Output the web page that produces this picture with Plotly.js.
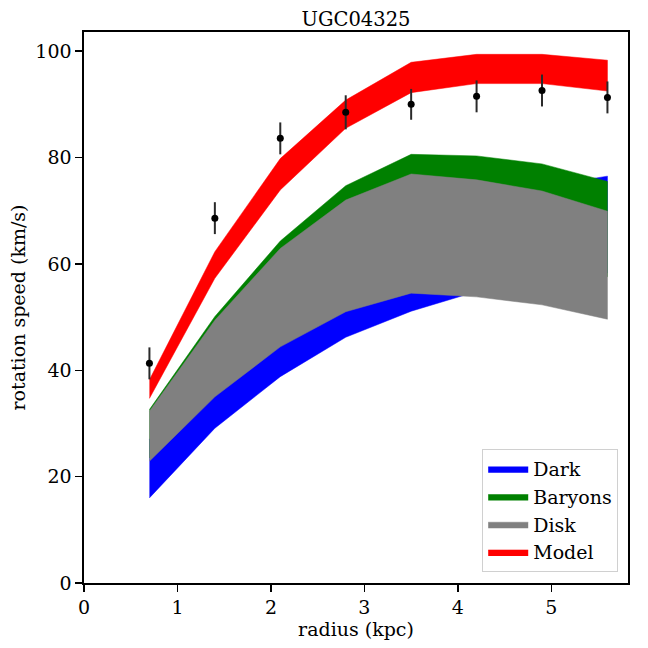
<!DOCTYPE html>
<html>
<head>
<meta charset="utf-8">
<script src="https://cdn.plot.ly/plotly-3.0.1.min.js"></script>
<style>html,body{margin:0;padding:0;background:#fff}#chart{width:648px;height:648px}</style>
</head>
<body>
<div id="chart"></div>
<script>
var radius = [0.7, 1.4, 2.1, 2.8, 3.5, 4.2, 4.9, 5.6];
var obsSpeed = [41.3, 68.6, 83.6, 88.5, 90.0, 91.5, 92.6, 91.3];
var obsErr = [3.0, 3.0, 3.0, 3.2, 2.9, 3.0, 3.0, 3.0];
var darkLow = [16.0, 29.1, 38.8, 46.2, 51.1, 54.8, 56.8, 58.3];
var darkHigh = [27.0, 40.0, 52.0, 61.0, 67.0, 71.0, 74.5, 76.5];
var baryonsLow = [23.5, 36.0, 46.0, 55.0, 59.5, 60.1, 58.9, 57.6];
var baryonsHigh = [32.6, 50.1, 64.3, 74.7, 80.6, 80.3, 78.8, 75.5];
var diskLow = [22.9, 35.0, 44.4, 51.0, 54.5, 53.8, 52.3, 49.6];
var diskHigh = [32.3, 49.4, 62.9, 72.0, 76.9, 75.8, 73.7, 69.9];
var modelLow = [34.7, 57.3, 73.9, 85.5, 92.2, 93.9, 93.9, 92.5];
var modelHigh = [38.2, 62.3, 79.8, 90.8, 97.9, 99.4, 99.4, 98.3];
var xTicks = [0, 1, 2, 3, 4, 5];
var yTicks = [0, 20, 40, 60, 80, 100];

function band(name, low, high, color) {
  var xs = radius.concat(radius.slice().reverse());
  var ys = high.concat(low.slice().reverse());
  return {
    x: xs, y: ys, name: name, type: 'scatter', mode: 'lines',
    fill: 'toself', fillcolor: color,
    line: {color: color, width: 0.5}, hoverinfo: 'skip'
  };
}

var traces = [
  band('Dark', darkLow, darkHigh, '#0000ff'),
  band('Baryons', baryonsLow, baryonsHigh, '#008000'),
  band('Disk', diskLow, diskHigh, '#808080'),
  band('Model', modelLow, modelHigh, '#ff0000'),
  {
    x: radius, y: obsSpeed, type: 'scatter', mode: 'markers', showlegend: false,
    marker: {color: '#000', size: 7},
    error_y: {type: 'data', array: obsErr, visible: true, color: '#2a2a2a', thickness: 2, width: 0}
  }
];

var fam = 'DejaVu Serif, serif';
var layout = {
  width: 648, height: 648,
  paper_bgcolor: '#fff', plot_bgcolor: '#fff',
  margin: {l: 84, r: 20, t: 32, b: 65},
  font: {family: fam, size: 19, color: '#000'},
  title: {text: 'UGC04325', xref: 'paper', x: 0.5, xanchor: 'center', yref: 'container', y: 0.971, yanchor: 'middle', font: {family: fam, size: 19.5, color: '#000'}},
  xaxis: {
    range: [0, 5.82], tickvals: xTicks, ticktext: xTicks.map(String),
    ticks: 'outside', ticklen: 7, tickwidth: 1.5, tickcolor: '#000',
    showgrid: false, zeroline: false, showline: true, linecolor: '#000', linewidth: 1.6, mirror: true,
    tickfont: {family: fam, size: 19, color: '#000'},
    title: {text: 'radius (kpc)', font: {family: fam, size: 19, color: '#000'}, standoff: 0}
  },
  yaxis: {
    range: [0, 103.6], tickvals: yTicks, ticktext: yTicks.map(String),
    ticks: 'outside', ticklen: 7, tickwidth: 1.5, tickcolor: '#000',
    showgrid: false, zeroline: false, showline: true, linecolor: '#000', linewidth: 1.6, mirror: true,
    tickfont: {family: fam, size: 19, color: '#000'},
    title: {text: 'rotation speed (km/s)', font: {family: fam, size: 19, color: '#000'}, standoff: 4}
  },
  showlegend: true,
  legend: {
    x: 0.982, y: 0.02, xanchor: 'right', yanchor: 'bottom',
    bgcolor: 'rgba(255,255,255,0.8)', bordercolor: '#d0d0d0', borderwidth: 1,
    font: {family: fam, size: 19, color: '#000'},
    traceorder: 'normal', itemwidth: 40, tracegroupgap: 0
  }
};

Plotly.newPlot('chart', traces, layout, {displayModeBar: false, staticPlot: true});
</script>
</body>
</html>
